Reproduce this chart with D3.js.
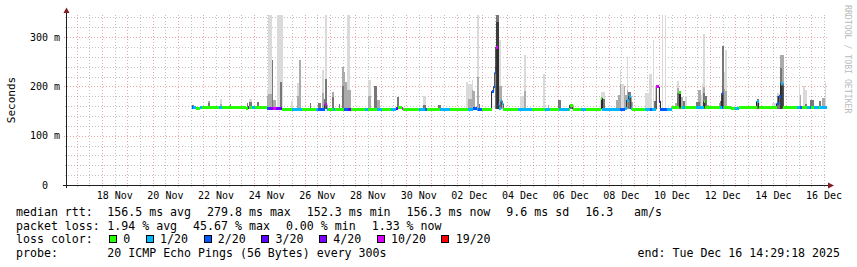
<!DOCTYPE html>
<html>
<head>
<meta charset="utf-8">
<script src="https://cdn.jsdelivr.net/npm/d3@7"></script>
<style>
body { margin: 0; background: #fff; }
svg text { font-family: "DejaVu Sans Mono", monospace; white-space: pre; fill: #000; }
</style>
</head>
<body>
<svg id="chart" width="857" height="267"></svg>
<script>
// ---- data ----
var endTime = "2025-12-16 14:29:18";
var spanDays = 30;
var yMax = 346;
var smokeFloor = 155;
var yTickValues = [0, 100, 200, 300];
var yTickLabels = ["0  ", "100 m", "200 m", "300 m"];
var xLabelDays = ["11-18", "11-20", "11-22", "11-24", "11-26", "11-28", "11-30",
                  "12-02", "12-04", "12-06", "12-08", "12-10", "12-12", "12-14", "12-16"];

var lossLabels = ["0", "1/20", "2/20", "3/20", "4/20", "10/20", "19/20"];
var lossColors = ["#26ff00", "#00b8ff", "#0059ff", "#5e00ff", "#7e00ff", "#dd00ff", "#ff0000"];
var smokeShades = ["#dadada", "#ababab", "#777777", "#3c3c3c"];

// median rtt: [start, ms, loss class], each run lasts until the next one
var medianRuns = [
  ["11-21 13", 157, 2], ["11-21 14", 157, 1], ["11-21 17", 156, 0], ["11-21 21", 157, 1],
  ["11-21 23", 157, 0], ["11-22 15", 157, 1], ["11-22 18", 157, 0], ["11-23 16", 155, 0],
  ["11-23 18", 157, 3], ["11-23 19", 157, 0], ["11-23 22", 157, 1], ["11-24 01", 157, 0],
  ["11-24 12", 156, 2], ["11-24 14", 155, 4], ["11-24 18", 155, 5], ["11-24 21", 155, 4],
  ["11-25 00", 156, 3], ["11-25 02", 154, 0], ["11-25 12", 154, 1], ["11-25 21", 154, 0],
  ["11-26 11", 154, 1], ["11-26 13", 154, 2], ["11-26 19", 163, 5], ["11-26 21", 154, 1],
  ["11-26 22", 154, 0], ["11-27 03", 154, 1], ["11-27 05", 154, 0], ["11-27 13", 154, 2],
  ["11-27 17", 154, 3], ["11-27 20", 154, 0], ["11-28 09", 154, 1], ["11-28 12", 154, 0],
  ["11-28 20", 154, 1], ["11-29 01", 154, 0], ["11-29 10", 154, 1], ["11-29 14", 155, 3],
  ["11-29 16", 157, 0], ["11-29 20", 156, 5], ["11-29 21", 154, 0], ["11-30 12", 154, 1],
  ["11-30 18", 154, 2], ["11-30 20", 154, 0], ["12-01 08", 154, 1], ["12-01 18", 154, 0],
  ["12-02 11", 154, 1], ["12-02 15", 155, 2], ["12-02 19", 154, 1], ["12-02 20", 154, 2],
  ["12-03 00", 153, 0], ["12-03 09", 190, 2], ["12-03 11", 200, 2], ["12-03 12", 228, 2],
  ["12-03 13", 280, 5], ["12-03 15", 163, 2], ["12-03 16", 156, 1], ["12-03 18", 171, 1],
  ["12-03 19", 165, 1], ["12-03 20", 154, 0], ["12-04 10", 154, 1], ["12-04 23", 154, 0],
  ["12-05 12", 154, 1], ["12-05 16", 154, 0], ["12-06 01", 154, 1], ["12-06 10", 154, 0],
  ["12-06 11", 162, 0], ["12-06 14", 154, 0], ["12-06 22", 154, 1], ["12-07 02", 154, 0],
  ["12-07 17", 176, 0], ["12-07 18", 154, 1], ["12-08 11", 154, 2], ["12-08 15", 155, 1],
  ["12-08 17", 172, 1], ["12-08 19", 180, 1], ["12-08 21", 155, 1], ["12-08 22", 154, 0],
  ["12-09 10", 154, 1], ["12-09 15", 154, 2], ["12-09 17", 154, 1], ["12-09 21", 199, 5],
  ["12-10 00", 170, 3], ["12-10 01", 153, 2], ["12-10 07", 154, 1], ["12-10 12", 158, 0],
  ["12-10 19", 188, 0], ["12-10 20", 158, 0], ["12-10 21", 157, 1], ["12-11 00", 157, 0],
  ["12-11 11", 157, 1], ["12-11 18", 169, 0], ["12-11 19", 157, 0], ["12-12 09", 157, 1],
  ["12-12 11", 186, 2], ["12-12 12", 157, 1], ["12-12 13", 157, 0], ["12-12 20", 155, 0],
  ["12-13 00", 155, 1], ["12-13 03", 157, 0], ["12-13 20", 169, 1], ["12-13 22", 157, 0],
  ["12-14 15", 165, 2], ["12-14 17", 180, 2], ["12-14 19", 206, 1], ["12-14 21", 157, 0],
  ["12-15 10", 157, 1], ["12-15 13", 157, 2], ["12-15 15", 157, 0], ["12-15 20", 157, 1],
  ["12-15 23", 157, 2], ["12-16 00", 157, 0], ["12-16 02", 157, 1], ["12-16 07", 157, 0],
  ["12-16 08", 157, 1]
];

// smoke: [from, to, light top, mid top, dark top, darkest top] in ms
var smoke = [
  ["11-21 13", "11-21 15", null, null, 162, null],
  ["11-22 04", "11-22 06", null, 171, 166, null],
  ["11-22 16", "11-22 18", 174, 165, null, null],
  ["11-23 01", "11-23 02", null, null, 165, null],
  ["11-23 17", "11-23 18", null, null, 166, null],
  ["11-23 19", "11-23 22", 174, null, 168, null],
  ["11-24 03", "11-24 05", null, null, 169, null],
  ["11-24 12", "11-24 13", 195, 180, null, null],
  ["11-24 13", "11-24 17", 346, 185, null, null],
  ["11-24 17", "11-24 18", null, null, 253, null],
  ["11-24 18", "11-24 21", null, 172, null, null],
  ["11-24 22", "11-25 03", 346, null, null, null],
  ["11-25 01", "11-25 02", null, null, 209, null],
  ["11-25 11", "11-25 13", 171, null, null, null],
  ["11-25 17", "11-25 20", 207, 180, null, null],
  ["11-25 19", "11-25 20", null, 253, null, null],
  ["11-26 05", "11-26 06", null, null, 166, null],
  ["11-26 13", "11-26 15", null, null, 166, null],
  ["11-26 16", "11-26 18", 233, 187, null, null],
  ["11-26 18", "11-26 19", null, null, 175, null],
  ["11-26 19", "11-26 21", 346, null, 215, null],
  ["11-27 02", "11-27 04", null, 189, 178, null],
  ["11-27 08", "11-27 09", null, null, 165, null],
  ["11-27 11", "11-27 13", null, 240, 200, null],
  ["11-27 13", "11-27 14", null, 230, null, null],
  ["11-27 14", "11-27 16", null, 209, null, null],
  ["11-27 16", "11-27 19", 346, 193, null, null],
  ["11-27 19", "11-27 20", null, 193, null, null],
  ["11-28 12", "11-28 15", 214, 180, null, null],
  ["11-28 18", "11-28 20", null, null, 200, null],
  ["11-28 20", "11-28 23", null, 172, null, null],
  ["11-29 15", "11-29 17", null, null, 178, null],
  ["11-30 16", "11-30 19", 180, null, 163, null],
  ["12-01 06", "12-01 09", null, null, 163, null],
  ["12-02 09", "12-02 11", 209, null, null, null],
  ["12-02 11", "12-02 14", 205, 175, null, null],
  ["12-02 14", "12-02 15", 213, 193, null, null],
  ["12-02 15", "12-02 17", null, 190, null, null],
  ["12-02 19", "12-02 21", 346, 220, null, null],
  ["12-02 21", "12-02 22", null, null, 165, null],
  ["12-03 12", "12-03 13", null, 240, 200, null],
  ["12-03 13", "12-03 16", null, 346, 346, 330],
  ["12-03 16", "12-03 18", 294, 200, null, null],
  ["12-03 18", "12-03 19", null, 200, null, null],
  ["12-04 12", "12-04 18", 180, null, null, null],
  ["12-04 16", "12-04 18", 263, 190, null, null],
  ["12-05 10", "12-05 12", 225, null, null, null],
  ["12-05 14", "12-05 15", null, 162, null, null],
  ["12-06 00", "12-06 03", null, null, 172, null],
  ["12-06 11", "12-06 14", null, null, 163, null],
  ["12-07 17", "12-07 20", 189, null, 174, null],
  ["12-08 07", "12-08 09", null, 172, null, null],
  ["12-08 09", "12-08 11", null, 182, null, null],
  ["12-08 11", "12-08 12", 234, 205, null, null],
  ["12-08 12", "12-08 14", 205, null, null, null],
  ["12-08 14", "12-08 15", null, 200, null, null],
  ["12-08 15", "12-08 17", null, 182, null, null],
  ["12-08 17", "12-08 18", 259, 193, null, null],
  ["12-08 18", "12-08 21", null, null, 189, null],
  ["12-08 21", "12-08 23", null, 168, null, null],
  ["12-09 10", "12-09 15", 186, null, null, null],
  ["12-09 14", "12-09 17", 225, null, null, null],
  ["12-09 18", "12-09 19", 295, null, null, null],
  ["12-09 19", "12-09 21", null, null, 170, null],
  ["12-10 02", "12-10 03", 346, null, null, null],
  ["12-10 05", "12-10 06", 346, null, null, null],
  ["12-10 15", "12-10 17", null, 167, null, null],
  ["12-10 17", "12-10 19", 211, 196, 186, null],
  ["12-10 19", "12-10 20", null, null, 186, null],
  ["12-10 20", "12-10 22", null, 178, null, null],
  ["12-10 22", "12-11 00", null, null, 170, null],
  ["12-11 00", "12-11 02", 180, null, null, null],
  ["12-11 11", "12-11 14", null, null, 168, null],
  ["12-11 13", "12-11 15", null, 193, null, null],
  ["12-11 14", "12-11 16", 182, null, null, null],
  ["12-11 16", "12-11 17", 205, null, null, null],
  ["12-11 17", "12-11 19", 306, 199, 186, null],
  ["12-11 19", "12-11 21", null, null, 180, null],
  ["12-11 21", "12-11 23", null, 162, null, null],
  ["12-12 08", "12-12 10", null, 167, null, null],
  ["12-12 09", "12-12 11", null, null, 171, null],
  ["12-12 11", "12-12 13", null, null, 282, null],
  ["12-12 13", "12-12 14", 230, 195, null, null],
  ["12-12 14", "12-12 16", 274, 190, null, null],
  ["12-13 20", "12-13 22", null, null, 174, null],
  ["12-14 11", "12-14 14", 167, null, null, null],
  ["12-14 15", "12-14 18", 186, null, 180, null],
  ["12-14 18", "12-14 20", null, 264, 237, 200],
  ["12-14 20", "12-14 22", null, 264, 200, null],
  ["12-15 12", "12-15 13", 205, null, null, null],
  ["12-15 13", "12-15 14", null, 182, null, null],
  ["12-15 16", "12-15 18", 200, null, null, null],
  ["12-15 18", "12-15 20", 193, null, 165, null],
  ["12-15 23", "12-16 02", null, null, 172, null],
  ["12-16 07", "12-16 09", null, null, 170, null],
  ["12-16 10", "12-16 13", null, 176, null, null],
  ["12-16 13", "12-16 14", 209, null, null, null]
];

var rttStats = ["156.5 ms avg", "279.8 ms max", "152.3 ms min", "156.3 ms now", "9.6 ms sd", "16.3   am/s"];
var lossStats = ["1.94 % avg", "45.67 % max", "0.00 % min", "1.33 % now"];
var probeText = "20 ICMP Echo Pings (56 Bytes) every 300s";
var endLabel = "end: Tue Dec 16 14:29:18 2025";

// ---- drawing ----
var parseHour = d3.timeParse("%Y-%m-%d %H");
var parseDay = d3.timeParse("%Y-%m-%d");
function t(s) { return parseHour("2025-" + s); }

var end = d3.timeParse("%Y-%m-%d %H:%M:%S")(endTime);
var start = d3.timeDay.offset(end, -spanDays);

var x = d3.scaleTime().domain([start, end]).range([66.7, 826.7]);
var y = d3.scaleLinear().domain([0, yMax]).range([185, 14.5]);

var svg = d3.select("#chart");
svg.append("rect").attr("width", 857).attr("height", 267).style("fill", "white");

var plotTop = y(yMax), plotBottom = y(0);
var minorColor = "rgba(143,143,143,0.55)";
var majorColor = "rgba(222,79,79,0.5)";

// grid
var grid = svg.append("g").attr("shape-rendering", "crispEdges");
var minorTimes = d3.timeHour.every(12).range(start, end).filter(function (d) { return d.getHours() != 0; });
var majorTimes = d3.timeDay.range(start, end);
grid.selectAll(".vmin").data(minorTimes).enter().append("line")
   .attr("x1", function (d) { return Math.round(x(d)) + 0.5; })
   .attr("x2", function (d) { return Math.round(x(d)) + 0.5; })
   .attr("y1", plotTop).attr("y2", plotBottom + 2)
   .style("stroke", minorColor).style("stroke-dasharray", "1,2");
var minorVals = d3.range(20, yMax, 20).filter(function (v) { return v % 100 != 0; });
grid.selectAll(".hmin").data(minorVals).enter().append("line")
   .attr("x1", x.range()[0] - 2).attr("x2", x.range()[1])
   .attr("y1", function (d) { return Math.round(y(d)) + 0.5; })
   .attr("y2", function (d) { return Math.round(y(d)) + 0.5; })
   .style("stroke", minorColor).style("stroke-dasharray", "1,2");
grid.selectAll(".vmaj").data(majorTimes).enter().append("line")
   .attr("x1", function (d) { return Math.round(x(d)) + 0.5; })
   .attr("x2", function (d) { return Math.round(x(d)) + 0.5; })
   .attr("y1", plotTop).attr("y2", plotBottom + 3)
   .style("stroke", majorColor).style("stroke-dasharray", "1,2");
grid.selectAll(".hmaj").data(yTickValues.filter(function (v) { return v > 0; })).enter().append("line")
   .attr("x1", x.range()[0] - 3).attr("x2", x.range()[1])
   .attr("y1", function (d) { return Math.round(y(d)) + 0.5; })
   .attr("y2", function (d) { return Math.round(y(d)) + 0.5; })
   .style("stroke", majorColor).style("stroke-dasharray", "1,2");

// smoke
var plot = svg.append("g");
smokeShades.forEach(function (shade, k) {
   plot.append("g").selectAll("rect")
      .data(smoke.filter(function (d) { return d[2 + k] != null; }))
      .enter().append("rect")
      .attr("shape-rendering", "crispEdges")
      .attr("x", function (d) { return x(t(d[0])); })
      .attr("width", function (d) { return x(t(d[1])) - x(t(d[0])); })
      .attr("y", function (d) { return y(Math.min(d[2 + k], yMax)); })
      .attr("height", function (d) { return y(smokeFloor) - y(Math.min(d[2 + k], yMax)); })
      .style("fill", shade);
});

// median
var runs = medianRuns.map(function (r, i) {
   var next = i + 1 < medianRuns.length ? t(medianRuns[i + 1][0]) : end;
   return { t0: t(r[0]), t1: next, v: r[1], loss: r[2] };
});
var pts = runs.map(function (r) { return [r.t0, r.v]; });
pts.push([end, runs[runs.length - 1].v]);
plot.append("path")
   .attr("d", d3.line().curve(d3.curveStepAfter)
      .x(function (d) { return x(d[0]); })
      .y(function (d) { return y(d[1]); })(pts))
   .style("fill", "none").style("stroke", "#202020").style("stroke-width", 1);
plot.append("g").selectAll("rect").data(runs).enter().append("rect")
   .attr("shape-rendering", "crispEdges")
   .attr("x", function (d) { return x(d.t0); })
   .attr("width", function (d) { return x(d.t1) - x(d.t0); })
   .attr("y", function (d) { return y(d.v) - 1.5; })
   .attr("height", 3)
   .style("fill", function (d) { return lossColors[d.loss]; });

// axes
var axis = svg.append("g").attr("shape-rendering", "crispEdges");
axis.append("line").attr("x1", 63).attr("x2", 830).attr("y1", 185.5).attr("y2", 185.5)
   .style("stroke", "#1f1f1f");
axis.append("line").attr("x1", 66.5).attr("x2", 66.5).attr("y1", 11).attr("y2", 188)
   .style("stroke", "#1f1f1f");
svg.append("path").attr("d", "M63.5,13L66.5,7.5L69.5,13Z").style("fill", "#801f1f");
svg.append("path").attr("d", "M828,182.5L834,185.5L828,188.5Z").style("fill", "#801f1f");

// y labels
svg.selectAll(".ylab").data(yTickValues).enter().append("text")
   .attr("x", 60).attr("y", function (d) { return y(d) + 3.5; })
   .attr("text-anchor", "end").style("font-size", "10px")
   .text(function (d, i) { return yTickLabels[i]; });

// x labels at noon
var fmt = d3.timeFormat("%d %b");
svg.selectAll(".xlab").data(xLabelDays).enter().append("text")
   .attr("x", function (d) { return x(d3.timeHour.offset(parseDay("2025-" + d), 12)); })
   .attr("y", 199).attr("text-anchor", "middle").style("font-size", "10px")
   .text(function (d) { return fmt(parseDay("2025-" + d)); });

svg.append("text").attr("transform", "translate(14.5,100) rotate(-90)")
   .attr("text-anchor", "middle").style("font-size", "11px").text("Seconds");
svg.append("text").attr("transform", "translate(844.5,5) rotate(90)")
   .style("font-size", "8.2px").style("fill", "#bbbbbb").text("RRDTOOL / TOBI OETIKER");

// legend
var leg = svg.append("g").style("font-size", "11.6px");
var rowY = [215.5, 229.5, 243.3, 257.3];
function statRow(yy, label, items) {
   leg.append("text").attr("x", 16).attr("y", yy).text(label);
   var xp = 107.3;
   items.forEach(function (s) {
      var tx = leg.append("text").attr("x", xp).attr("y", yy).text(s);
      xp += tx.node().getComputedTextLength() + 16;
   });
}
statRow(rowY[0], "median rtt:", rttStats);
statRow(rowY[1], "packet loss:", lossStats);
leg.append("text").attr("x", 16).attr("y", rowY[2]).text("loss color:");
var bx = 109;
lossLabels.forEach(function (s, i) {
   leg.append("rect").attr("x", bx + 0.5).attr("y", rowY[2] - 7.5).attr("width", 7).attr("height", 7)
      .attr("shape-rendering", "crispEdges")
      .style("fill", lossColors[i]).style("stroke", "#000");
   var tx = leg.append("text").attr("x", bx + 14.3).attr("y", rowY[2]).text(s);
   bx += 14.3 + tx.node().getComputedTextLength() + 15.5;
});
leg.append("text").attr("x", 16).attr("y", rowY[3]).text("probe:");
leg.append("text").attr("x", 107.3).attr("y", rowY[3]).text(probeText);
leg.append("text").attr("x", 840).attr("y", rowY[3]).attr("text-anchor", "end").text(endLabel);
</script>
</body>
</html>
